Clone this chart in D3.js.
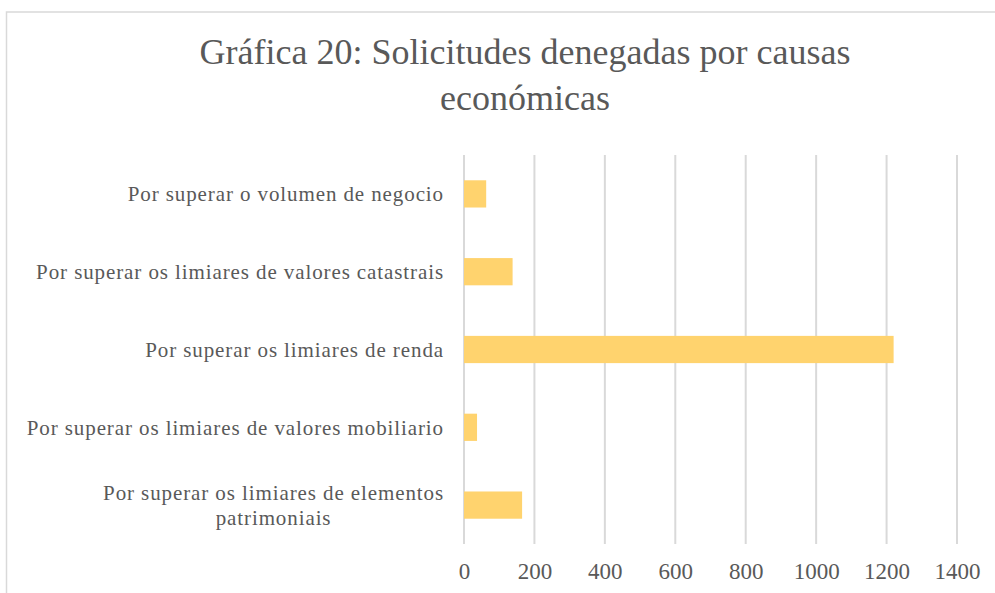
<!DOCTYPE html>
<html>
<head>
<meta charset="utf-8">
<script src="https://cdn.jsdelivr.net/npm/d3@7"></script>
<style>
  body { margin: 0; background: #fff; }
  svg text { font-family: "Liberation Serif", "DejaVu Serif", serif; fill: #595959; }
</style>
</head>
<body>
<div id="chart"></div>
<script>
// datos do gráfico
var categories = [
  "Por superar o volumen de negocio",
  "Por superar os limiares de valores catastrais",
  "Por superar os limiares de renda",
  "Por superar os limiares de valores mobiliario",
  "Por superar os limiares de elementos patrimoniais"
];
var values = [63, 138, 1220, 37, 165];
var xTicks = [0, 200, 400, 600, 800, 1000, 1200, 1400];
var titleLines = ["Gráfica 20: Solicitudes denegadas por causas", "económicas"];

var width = 995, height = 593;
var plotLeft = 464, plotRight = 957, plotTop = 155, plotBottom = 544;

var svg = d3.select("#chart").append("svg")
  .attr("width", width)
  .attr("height", height);

// borde da área do gráfico
svg.append("rect")
  .attr("x", 6.5).attr("y", 12)
  .attr("width", width + 10).attr("height", height + 10)
  .attr("fill", "#fff")
  .attr("stroke", "#d9d9d9")
  .attr("stroke-width", 1.5);

var x = d3.scaleLinear()
  .domain([0, 1400])
  .range([plotLeft, plotRight]);

var y = d3.scaleBand()
  .domain(categories)
  .range([plotTop, plotBottom])
  .paddingInner(0.65)
  .paddingOuter(0.325);

// liñas de grade
svg.append("g")
  .selectAll("line")
  .data(xTicks)
  .enter().append("line")
  .attr("x1", function (d) { return x(d); })
  .attr("x2", function (d) { return x(d); })
  .attr("y1", plotTop)
  .attr("y2", plotBottom)
  .attr("stroke", "#d9d9d9")
  .attr("stroke-width", 2);

// barras
svg.append("g")
  .selectAll("rect")
  .data(values)
  .enter().append("rect")
  .attr("x", x(0))
  .attr("y", function (d, i) { return y(categories[i]); })
  .attr("width", function (d) { return x(d) - x(0); })
  .attr("height", y.bandwidth())
  .attr("fill", "#ffd36e");

// eixo x
var xAxis = svg.append("g")
  .attr("transform", "translate(0," + plotBottom + ")")
  .call(d3.axisBottom(x).tickValues(xTicks).tickFormat(d3.format("d")).tickSize(0).tickPadding(19));
xAxis.select(".domain").remove();
xAxis.selectAll("text")
  .attr("font-family", "Liberation Serif")
  .style("font-size", "23px")
  .attr("fill", "#595959");

// etiquetas das categorías (con axuste de liña)
var labelRight = 444, wrapWidth = 432, lineH = 25;
var yLabels = svg.append("g")
  .style("font-size", "21px")
  .style("letter-spacing", "0.9px");
categories.forEach(function (c) {
  var t = yLabels.append("text").text(c);
  var lines = [c];
  if (t.node().getComputedTextLength() > wrapWidth) {
    var words = c.split(" "), cur = [], out = [];
    words.forEach(function (w) {
      cur.push(w);
      t.text(cur.join(" "));
      if (t.node().getComputedTextLength() > wrapWidth && cur.length > 1) {
        cur.pop();
        out.push(cur.join(" "));
        cur = [w];
      }
    });
    out.push(cur.join(" "));
    lines = out;
  }
  var widths = lines.map(function (l) { t.text(l); return t.node().getComputedTextLength(); });
  t.remove();
  var maxW = d3.max(widths);
  var cy = y(c) + y.bandwidth() / 2;
  var lx = lines.length > 1 ? labelRight - maxW / 2 : labelRight;
  var g = yLabels.append("text")
    .attr("text-anchor", lines.length > 1 ? "middle" : "end")
    .attr("x", lx);
  lines.forEach(function (l, i) {
    g.append("tspan")
      .attr("x", lx)
      .attr("y", cy + (i - (lines.length - 1) / 2) * lineH)
      .attr("dy", "0.35em")
      .text(l);
  });
});

// título
svg.append("g")
  .selectAll("text")
  .data(titleLines)
  .enter().append("text")
  .attr("x", 525)
  .attr("y", function (d, i) { return 51 + i * 46; })
  .attr("dy", "0.35em")
  .attr("text-anchor", "middle")
  .style("font-size", "36px")
  .text(function (d) { return d; });
</script>
</body>
</html>
